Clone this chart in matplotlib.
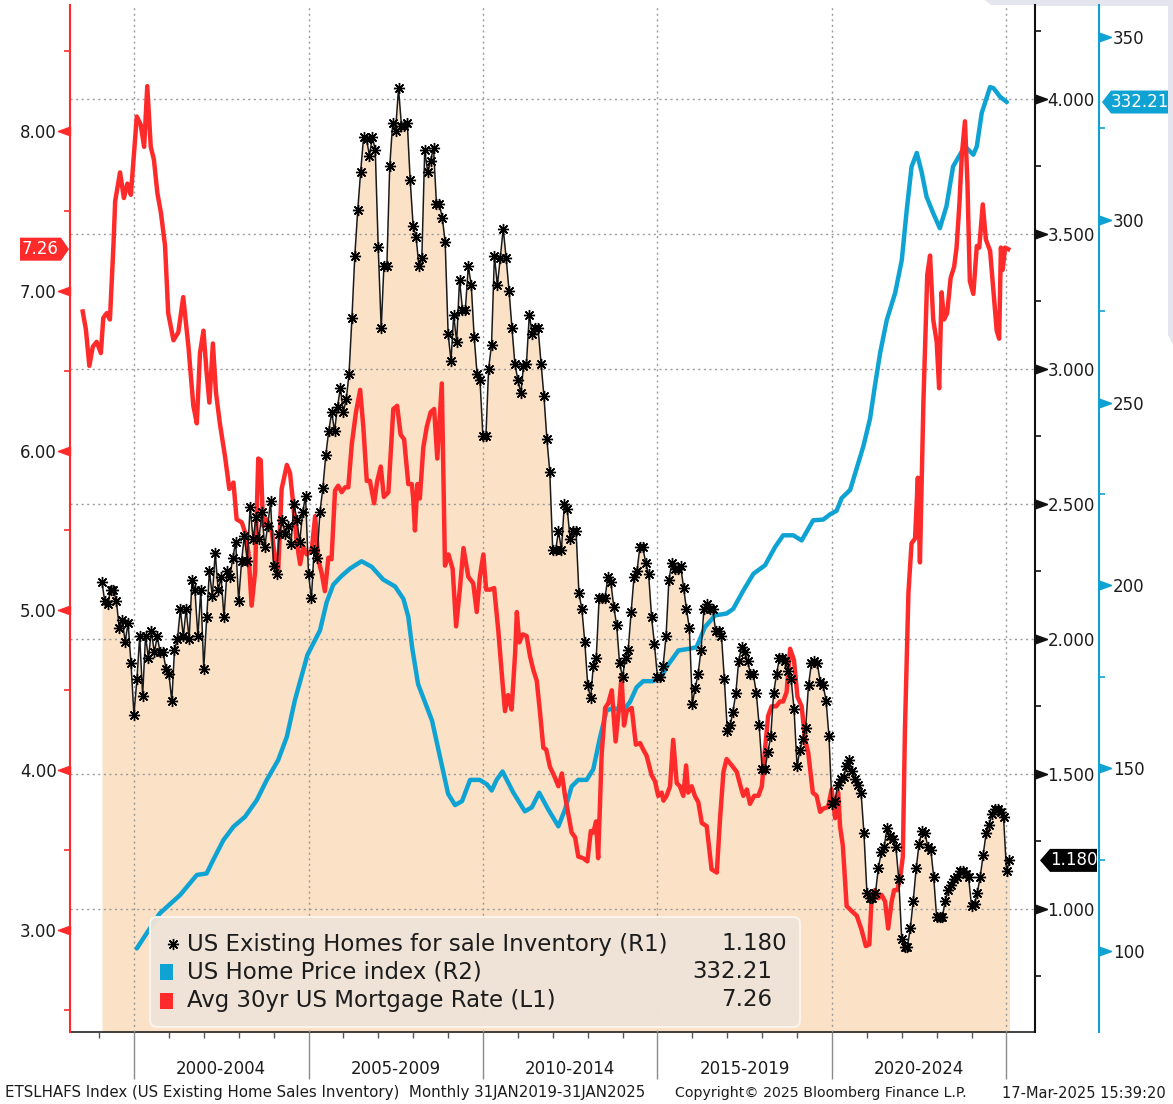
"""
Bloomberg-style chart: US existing home inventory, home price index and
30yr mortgage rate on three y-axes (L1, R1, R2).
"""
import matplotlib
matplotlib.use("Agg")
import matplotlib.pyplot as plt
import numpy as np
import pandas as pd
from matplotlib.path import Path
from matplotlib.patches import Polygon, FancyBboxPatch, Rectangle
from matplotlib.transforms import blended_transform_factory, IdentityTransform

# ---------------------------------------------------------------- data
# US existing homes for sale inventory (millions), monthly Jan-1999 .. Jan-2025
inventory = [
    2.21, 2.14, 2.13, 2.18, 2.18, 2.14, 2.04, 2.07, 1.99, 2.06, 1.91, 1.72,  # 1999
    1.85, 2.01, 1.79, 2.01, 1.93, 2.03, 1.95, 2.01, 1.95, 1.95, 1.89, 1.87,  # 2000
    1.77, 1.96, 2.00, 2.11, 2.01, 2.11, 2.00, 2.22, 2.18, 2.01, 2.18, 1.89,  # 2001
    2.08, 2.25, 2.16, 2.32, 2.18, 2.23, 2.08, 2.25, 2.23, 2.30, 2.36, 2.14,  # 2002
    2.29, 2.38, 2.29, 2.49, 2.37, 2.45, 2.37, 2.47, 2.34, 2.42, 2.51, 2.27,  # 2003
    2.24, 2.39, 2.44, 2.39, 2.42, 2.35, 2.50, 2.44, 2.36, 2.47, 2.53, 2.24,  # 2004
    2.15, 2.33, 2.30, 2.47, 2.56, 2.68, 2.77, 2.84, 2.77, 2.86, 2.93, 2.84,  # 2005
    2.89, 2.98, 3.19, 3.42, 3.59, 3.73, 3.86, 3.85, 3.79, 3.86, 3.81, 3.45,  # 2006
    3.15, 3.38, 3.38, 3.75, 3.91, 3.88, 4.04, 3.90, 3.90, 3.91, 3.70, 3.53,  # 2007
    3.49, 3.38, 3.41, 3.81, 3.73, 3.77, 3.82, 3.61, 3.61, 3.56, 3.47, 3.13,  # 2008
    3.03, 3.20, 3.10, 3.33, 3.22, 3.22, 3.38, 3.31, 3.12, 2.98, 2.96, 2.75,  # 2009
    2.75, 3.00, 3.09, 3.42, 3.31, 3.41, 3.52, 3.41, 3.29, 3.15, 3.02, 2.96,  # 2010
    2.91, 3.01, 3.02, 3.20, 3.13, 3.15, 3.15, 3.02, 2.90, 2.74, 2.62, 2.33,  # 2011
    2.33, 2.40, 2.33, 2.50, 2.48, 2.37, 2.40, 2.40, 2.17, 2.11, 1.99, 1.83,  # 2012
    1.78, 1.90, 1.93, 2.15, 2.15, 2.15, 2.23, 2.21, 2.12, 2.05, 1.91, 1.86,  # 2013
    1.93, 1.96, 2.10, 2.23, 2.25, 2.34, 2.34, 2.28, 2.24, 2.08, 1.98, 1.86,  # 2014
    1.86, 1.90, 2.01, 2.22, 2.28, 2.26, 2.26, 2.27, 2.19, 2.11, 2.04, 1.76,  # 2015
    1.82, 1.87, 1.96, 2.11, 2.13, 2.11, 2.11, 2.03, 2.03, 2.01, 1.85, 1.66,  # 2016
    1.68, 1.73, 1.80, 1.92, 1.97, 1.95, 1.92, 1.87, 1.87, 1.80, 1.68, 1.52,  # 2017
    1.52, 1.58, 1.64, 1.80, 1.87, 1.93, 1.93, 1.92, 1.88, 1.85, 1.74, 1.53,  # 2018
    1.59, 1.63, 1.67, 1.83, 1.91, 1.92, 1.91, 1.84, 1.83, 1.77, 1.64, 1.39,  # 2019
    1.40, 1.46, 1.48, 1.49, 1.53, 1.55, 1.51, 1.48, 1.46, 1.43, 1.28, 1.06,  # 2020
    1.04, 1.04, 1.06, 1.15, 1.21, 1.23, 1.30, 1.27, 1.26, 1.23, 1.11, 0.89,  # 2021
    0.86, 0.86, 0.93, 1.03, 1.15, 1.24, 1.29, 1.28, 1.23, 1.22, 1.12, 0.97,  # 2022
    0.97, 0.97, 1.03, 1.07, 1.09, 1.11, 1.12, 1.14, 1.14, 1.13, 1.12, 1.01,  # 2023
    1.02, 1.06, 1.12, 1.20, 1.28, 1.31, 1.35, 1.37, 1.37, 1.36, 1.34, 1.14,  # 2024
    1.18,                                                                    # 2025
]

# US home price index (R2), decimal-year dates
hpi_t = [
    2000.08, 2000.36, 2000.74, 2001.32, 2001.80, 2002.08, 2002.27, 2002.56,
    2002.85, 2003.18, 2003.52, 2003.80, 2004.13, 2004.38, 2004.61, 2004.97,
    2005.33, 2005.52, 2005.71, 2005.95, 2006.19, 2006.52, 2006.81, 2007.14,
    2007.48, 2007.72, 2007.86, 2007.97, 2008.14, 2008.34, 2008.54, 2008.77,
    2009.00, 2009.20, 2009.40, 2009.63, 2009.91, 2010.11, 2010.25, 2010.39,
    2010.56, 2010.87, 2011.20, 2011.40, 2011.61, 2011.87, 2012.16, 2012.35,
    2012.54, 2012.73, 2012.97, 2013.16, 2013.35, 2013.54, 2013.73, 2014.02,
    2014.21, 2014.40, 2014.59, 2014.88, 2015.12, 2015.26, 2015.60, 2015.93,
    2016.12, 2016.36, 2016.65, 2016.98, 2017.17, 2017.46, 2017.75, 2018.08,
    2018.37, 2018.60, 2018.89, 2019.13, 2019.46, 2019.75, 2019.94, 2020.13,
    2020.28, 2020.52, 2020.71, 2020.90, 2021.09, 2021.23, 2021.38, 2021.57,
    2021.81, 2022.00, 2022.14, 2022.28, 2022.43, 2022.57, 2022.71, 2022.90,
    2023.09, 2023.28, 2023.47, 2023.72, 2023.86, 2024.05, 2024.15, 2024.29,
    2024.53, 2024.63, 2024.81, 2025.01,
]
hpi = [
    100.7, 104.8, 110.3, 115.3, 120.8, 121.2, 124.9, 130.3,
    134.0, 136.7, 141.3, 146.7, 152.2, 158.6, 168.6, 181.0,
    187.7, 195.4, 200.2, 202.6, 204.6, 206.6, 205.1, 201.6,
    199.7, 196.3, 191.4, 183.0, 173.0, 168.0, 163.0, 153.0,
    143.0, 139.9, 141.0, 146.8, 146.8, 145.6, 143.9, 146.8,
    149.1, 143.3, 138.2, 139.3, 143.3, 138.7, 134.1, 138.7,
    145.0, 146.8, 146.8, 149.7, 158.3, 165.8, 166.4, 165.8,
    168.1, 172.1, 173.8, 173.8, 175.0, 177.7, 182.2, 182.7,
    183.1, 188.6, 191.8, 192.3, 193.6, 198.6, 203.2, 205.5,
    210.5, 213.7, 213.7, 212.3, 217.8, 218.0, 219.4, 220.4,
    223.9, 226.1, 232.1, 238.1, 245.6, 254.6, 263.6, 272.6,
    280.0, 289.0, 302.5, 314.5, 318.3, 313.0, 306.3, 301.8,
    297.7, 303.7, 314.6, 318.7, 319.6, 317.8, 320.1, 329.2,
    336.3, 336.0, 333.7, 332.21,
]

# Avg 30yr US mortgage rate (L1), decimal-year dates
rate_t = [
    1998.53, 1998.62, 1998.72, 1998.82, 1998.93, 1999.05, 1999.12, 1999.22,
    1999.31, 1999.41, 1999.46, 1999.60, 1999.71, 1999.81, 1999.91, 2000.08,
    2000.19, 2000.29, 2000.38, 2000.48, 2000.57, 2000.67, 2000.77, 2000.89,
    2000.98, 2001.13, 2001.27, 2001.41, 2001.56, 2001.70, 2001.80, 2001.89,
    2001.99, 2002.08, 2002.16, 2002.26, 2002.35, 2002.46, 2002.61, 2002.73,
    2002.85, 2002.94, 2003.09, 2003.18, 2003.28, 2003.37, 2003.47, 2003.56,
    2003.63, 2003.70, 2003.80, 2003.95, 2004.04, 2004.13, 2004.23, 2004.38,
    2004.47, 2004.56, 2004.66, 2004.76, 2004.85, 2004.95, 2005.09, 2005.19,
    2005.28, 2005.38, 2005.47, 2005.57, 2005.66, 2005.76, 2005.85, 2005.95,
    2006.05, 2006.14, 2006.24, 2006.36, 2006.48, 2006.57, 2006.67, 2006.76,
    2006.88, 2006.97, 2007.07, 2007.16, 2007.29, 2007.43, 2007.54, 2007.64,
    2007.74, 2007.86, 2007.96, 2008.00, 2008.05, 2008.12, 2008.19, 2008.29,
    2008.39, 2008.50, 2008.60, 2008.69, 2008.82, 2008.91, 2009.01, 2009.13,
    2009.23, 2009.34, 2009.44, 2009.58, 2009.72, 2009.82, 2009.91, 2010.01,
    2010.09, 2010.20, 2010.32, 2010.44, 2010.54, 2010.63, 2010.72, 2010.82,
    2010.92, 2010.97, 2011.04, 2011.14, 2011.25, 2011.35, 2011.44, 2011.54,
    2011.63, 2011.73, 2011.81, 2011.92, 2012.03, 2012.16, 2012.26, 2012.35,
    2012.44, 2012.54, 2012.64, 2012.73, 2012.87, 2012.99, 2013.09, 2013.16,
    2013.24, 2013.30, 2013.40, 2013.50, 2013.59, 2013.69, 2013.80, 2013.91,
    2013.97, 2014.04, 2014.12, 2014.26, 2014.38, 2014.50, 2014.59, 2014.69,
    2014.83, 2014.93, 2015.02, 2015.12, 2015.17, 2015.26, 2015.36, 2015.45,
    2015.55, 2015.64, 2015.74, 2015.82, 2015.88, 2015.98, 2016.07, 2016.17,
    2016.27, 2016.41, 2016.55, 2016.70, 2016.79, 2016.89, 2016.98, 2017.13,
    2017.27, 2017.38, 2017.46, 2017.56, 2017.65, 2017.77, 2017.89, 2017.99,
    2018.08, 2018.17, 2018.27, 2018.40, 2018.51, 2018.60, 2018.70, 2018.80,
    2018.91, 2019.01, 2019.13, 2019.23, 2019.32, 2019.45, 2019.56, 2019.66,
    2019.75, 2019.89, 2019.99, 2020.09, 2020.18, 2020.23, 2020.31, 2020.42,
    2020.56, 2020.71, 2020.85, 2020.97, 2021.07, 2021.14, 2021.23, 2021.33,
    2021.42, 2021.52, 2021.61, 2021.71, 2021.78, 2021.87, 2021.95, 2022.03,
    2022.09, 2022.19, 2022.28, 2022.38, 2022.46, 2022.52, 2022.62, 2022.73,
    2022.81, 2022.90, 2023.00, 2023.07, 2023.14, 2023.21, 2023.30, 2023.40,
    2023.50, 2023.57, 2023.65, 2023.72, 2023.81, 2023.88, 2023.95, 2024.05,
    2024.15, 2024.22, 2024.32, 2024.41, 2024.53, 2024.62, 2024.72, 2024.79,
    2024.84, 2024.89, 2024.96, 2025.05,
]
rate = [
    6.87, 6.76, 6.53, 6.65, 6.68, 6.61, 6.83, 6.86,
    6.82, 7.28, 7.56, 7.74, 7.58, 7.67, 7.60, 8.09,
    8.04, 7.90, 8.28, 7.90, 7.82, 7.61, 7.49, 7.28,
    6.86, 6.69, 6.74, 6.96, 6.65, 6.28, 6.17, 6.61,
    6.75, 6.49, 6.30, 6.67, 6.36, 6.17, 5.96, 5.76,
    5.80, 5.57, 5.55, 5.49, 5.36, 5.03, 5.24, 5.95,
    5.94, 5.53, 5.57, 5.49, 5.32, 5.24, 5.76, 5.91,
    5.86, 5.67, 5.43, 5.29, 5.40, 5.35, 5.37, 5.59,
    5.32, 5.23, 5.12, 5.33, 5.32, 5.75, 5.78, 5.74,
    5.77, 5.77, 6.04, 6.24, 6.38, 6.15, 5.81, 5.81,
    5.67, 5.81, 5.90, 5.71, 5.74, 6.26, 6.28, 6.10,
    6.07, 5.79, 5.79, 5.70, 5.50, 5.79, 5.70, 6.02,
    6.15, 6.24, 6.26, 5.95, 6.42, 5.28, 5.35, 5.26,
    4.90, 5.14, 5.39, 5.21, 5.17, 4.99, 5.21, 5.35,
    5.13, 5.13, 5.14, 4.87, 4.60, 4.37, 4.47, 4.38,
    4.73, 4.99, 4.80, 4.85, 4.84, 4.71, 4.63, 4.56,
    4.37, 4.14, 4.13, 4.02, 3.97, 3.90, 3.98, 3.84,
    3.73, 3.61, 3.58, 3.46, 3.45, 3.43, 3.62, 3.61,
    3.68, 3.45, 4.10, 4.39, 4.42, 4.50, 4.18, 4.42,
    4.59, 4.28, 4.37, 4.39, 4.16, 4.17, 4.13, 4.09,
    3.97, 3.93, 3.84, 3.86, 3.81, 3.84, 3.90, 4.19,
    3.92, 3.90, 3.84, 4.03, 3.86, 3.90, 3.84, 3.80,
    3.67, 3.65, 3.38, 3.36, 3.69, 3.99, 4.07, 4.03,
    3.99, 3.90, 3.84, 3.88, 3.79, 3.84, 3.84, 3.90,
    4.13, 4.34, 4.40, 4.40, 4.43, 4.43, 4.49, 4.76,
    4.69, 4.46, 4.40, 4.19, 4.11, 3.86, 3.84, 3.74,
    3.76, 3.77, 3.88, 3.70, 3.86, 3.65, 3.53, 3.15,
    3.12, 3.09, 3.00, 2.90, 2.91, 3.22, 3.25, 3.20,
    3.22, 3.18, 3.01, 3.18, 3.25, 3.25, 3.32, 3.46,
    4.25, 5.11, 5.42, 5.45, 5.83, 5.30, 6.31, 7.10,
    7.22, 6.82, 6.68, 6.39, 6.99, 6.82, 6.86, 7.08,
    7.15, 7.27, 7.54, 7.85, 8.06, 7.68, 7.06, 6.98,
    7.28, 7.27, 7.54, 7.32, 7.25, 7.01, 6.75, 6.70,
    7.27, 7.13, 7.27, 7.26,
]

l1_ticks = [3, 4, 5, 6, 7, 8]
r1_ticks = [1.0, 1.5, 2.0, 2.5, 3.0, 3.5, 4.0]
r2_ticks = [100, 150, 200, 250, 300, 350]
group_starts = [2000, 2005, 2010, 2015, 2020]

# ---------------------------------------------------------------- style
RED = "#ff2a2a"
BLUE = "#0fa3d4"
FILL = "#fbe1c6"
GRID = "#9b9b9b"
TXT = "#1c1c1c"

W, H = 1173, 1104
plt.rcParams["font.family"] = "DejaVu Sans"
fig = plt.figure(figsize=(W / 100, H / 100), dpi=100)

# plot frame in pixels (left, right, top, bottom)
PL, PR, PT, PB = 70, 1035, 5, 1032
rect = [PL / W, (H - PB) / H, (PR - PL) / W, (PB - PT) / H]

ax_bg = fig.add_axes(rect)
ax_r2 = fig.add_axes(rect, sharex=ax_bg)
ax_l1 = fig.add_axes(rect, sharex=ax_bg)
ax_r1 = fig.add_axes(rect, sharex=ax_bg)

inv_dates = pd.date_range("1999-01-31", periods=len(inventory), freq="ME")
inv_t = inv_dates.year + (inv_dates.dayofyear - 0.5) / 365.25

ax_bg.set_xlim(1998.166, 2025.817)
ax_bg.set_ylim(0.5444, 4.348)
ax_r1.set_ylim(0.5444, 4.348)
ax_l1.set_ylim(2.3625, 8.7875)
ax_r2.set_ylim(77.84, 358.75)

# background axis: fill, grid, x axis
ax_bg.fill_between(inv_t, inventory, 0, color=FILL, lw=0, zorder=1)
ax_bg.set_yticks(r1_ticks)
ax_bg.tick_params(axis="y", left=False, labelleft=False)
ax_bg.set_xticks(np.arange(2000, 2026, 5))
ax_bg.set_xticks(np.arange(1999, 2026, 1), minor=True)
ax_bg.tick_params(axis="x", which="major", length=34, width=1, color="#8a8a8a",
                  labelbottom=False)
ax_bg.tick_params(axis="x", which="minor", length=4.5, width=1, color="#555555")
ax_bg.grid(True, which="major", ls=(0, (1.5, 2.5)), color=GRID, lw=1)
ax_bg.set_axisbelow(False)
for s in ("left", "right", "top"):
    ax_bg.spines[s].set_visible(False)
ax_bg.spines["bottom"].set_color("#222222")
ax_bg.spines["bottom"].set_linewidth(1.2)

xlab_tr = blended_transform_factory(ax_bg.transData, ax_bg.transAxes)
for g in group_starts:
    ax_bg.text(g + 2.5, -0.036, f"{g}-{g + 4}", transform=xlab_tr, ha="center",
               va="center", fontsize=12, color=TXT)

for a in (ax_r2, ax_l1, ax_r1):
    a.patch.set_visible(False)
    a.tick_params(axis="x", which="both", bottom=False, labelbottom=False)
    for s in a.spines.values():
        s.set_visible(False)

# R2: home price index
ax_r2.plot(hpi_t, hpi, color=BLUE, lw=3.2, solid_capstyle="round",
           solid_joinstyle="round")
ax_r2.yaxis.tick_right()
ax_r2.spines["right"].set_visible(True)
ax_r2.spines["right"].set_position(("outward", 64 * 0.72))
ax_r2.spines["right"].set_color(BLUE)
ax_r2.spines["right"].set_linewidth(1.5)
ax_r2.set_yticks(r2_ticks)
ax_r2.set_yticklabels([f"{v}" for v in r2_ticks])
ax_r2.set_yticks([125, 175, 225, 275, 325], minor=True)
ax_r2.tick_params(axis="y", which="major", length=0, pad=10, labelsize=12,
                  labelcolor=TXT)
ax_r2.tick_params(axis="y", which="minor", length=4, width=1.2, color=BLUE)

# L1: mortgage rate
ax_l1.plot(rate_t, rate, color=RED, lw=3.2, solid_joinstyle="round")
ax_l1.spines["left"].set_visible(True)
ax_l1.spines["left"].set_color(RED)
ax_l1.spines["left"].set_linewidth(1.5)
ax_l1.set_yticks(l1_ticks)
ax_l1.set_yticklabels([f"{v:.2f}" for v in l1_ticks])
ax_l1.set_yticks(np.arange(2.5, 8.6, 1.0), minor=True)
ax_l1.tick_params(axis="y", which="major", length=0, pad=9.5, labelsize=12,
                  labelcolor=TXT)
ax_l1.tick_params(axis="y", which="minor", length=4, width=1.2, color=RED)

# R1: inventory line with star markers
ax_r1.plot(inv_t, inventory, color="#1a1a1a", lw=1.1, marker=(8, 2, 0),
           markersize=8, markeredgewidth=1.0, markeredgecolor="black")
ax_r1.yaxis.tick_right()
ax_r1.spines["right"].set_visible(True)
ax_r1.spines["right"].set_color("#111111")
ax_r1.spines["right"].set_linewidth(1.5)
ax_r1.set_yticks(r1_ticks)
ax_r1.set_yticklabels([f"{v:.3f}" for v in r1_ticks])
ax_r1.set_yticks(np.arange(0.75, 4.3, 0.5), minor=True)
ax_r1.tick_params(axis="y", which="major", length=0, pad=9, labelsize=12,
                  labelcolor=TXT)
ax_r1.tick_params(axis="y", which="minor", length=4, width=1.2, color="#111111")

# triangle tick flags
tri_left = Path([(-1, 0), (0, 0.36), (0, -0.36), (-1, 0)])
tri_right = Path([(1, 0), (0, 0.36), (0, -0.36), (1, 0)])
for a, ticks, xpos, mk, col in (
    (ax_l1, l1_ticks, 0.0, tri_left, RED),
    (ax_r1, r1_ticks, 1.0, tri_right, "#111111"),
    (ax_r2, r2_ticks, 1 + 64 / (PR - PL), tri_right, BLUE),
):
    tr = blended_transform_factory(a.transAxes, a.transData)
    a.plot([xpos] * len(ticks), ticks, ls="none", marker=mk, markersize=17.5,
           color=col, transform=tr, clip_on=False)


# ---------------------------------------------------------------- value badges
def badge(ax, value, label, x0, x1, tip, color, fg="white"):
    """Flag-shaped last-value label; x in pixels, y from the axis scale."""
    y = ax.transData.transform((0, value))[1]
    h = 11.5
    if tip > x1:  # points right
        verts = [(x0, y - h), (x1, y - h), (tip, y), (x1, y + h), (x0, y + h)]
    else:  # points left
        verts = [(x1, y - h), (x0, y - h), (tip, y), (x0, y + h), (x1, y + h)]
    fig.add_artist(Polygon(verts, closed=True, facecolor=color, edgecolor="none",
                           transform=IdentityTransform(), zorder=20))
    fig.text((x0 + x1) / 2 / W, y / H, label, ha="center", va="center",
             fontsize=12, color=fg, zorder=21)


badge(ax_l1, rate[-1], f"{rate[-1]:.2f}", 20, 61, 69, RED)
badge(ax_r1, inventory[-1], f"{inventory[-1]:.3f}", 1050, 1097, 1040, "#000000")
badge(ax_r2, hpi[-1], f"{hpi[-1]:.2f}", 1111, 1168, 1102, BLUE)

# ---------------------------------------------------------------- legend
fig.add_artist(FancyBboxPatch(
    (150 / W, (H - 1027) / H), 650 / W, 110 / H,
    boxstyle="round,pad=0,rounding_size=0.006", transform=fig.transFigure,
    facecolor="#efe4da", edgecolor="#fbf5ef", lw=1.5, alpha=0.95, zorder=15))

rows = [
    ("US Existing Homes for sale Inventory (R1)", f"{inventory[-1]:.3f}", 787),
    ("US Home Price index (R2)", f"{hpi[-1]:.2f}", 772),
    ("Avg 30yr US Mortgage Rate (L1)", f"{rate[-1]:.2f}", 772),
]
row_y = [944, 972, 1000]
for (name, val, xr), yy in zip(rows, row_y):
    fig.text(187 / W, (H - yy) / H, name, ha="left", va="center", fontsize=16.5,
             color=TXT, zorder=16)
    fig.text(xr / W, (H - yy) / H, val, ha="right", va="center", fontsize=16.5,
             color=TXT, zorder=16)

fig.add_artist(plt.Line2D([173 / W], [(H - 944) / H], marker=(8, 2, 0),
                          markersize=8, color="black", transform=fig.transFigure,
                          zorder=16))
for col, yy in ((BLUE, 972), (RED, 1001)):
    fig.add_artist(Rectangle((160 / W, (H - yy - 8) / H), 13 / W, 16 / H,
                             facecolor=col, edgecolor="none",
                             transform=fig.transFigure, zorder=16))

# ---------------------------------------------------------------- footer
fig.text(5 / W, (H - 1093) / H,
         "ETSLHAFS Index (US Existing Home Sales Inventory)  Monthly 31JAN2019-31JAN2025",
         ha="left", va="center", fontsize=10.8, color=TXT)
fig.text(675 / W, (H - 1093) / H, "Copyright\u00a9 2025 Bloomberg Finance L.P.",
         ha="left", va="center", fontsize=10.2, color=TXT)
fig.text(1166 / W, (H - 1093) / H, "17-Mar-2025 15:39:20", ha="right",
         va="center", fontsize=10.5, color=TXT)

# small grey UI artifact in the top-right corner
fig.add_artist(Polygon([(985, H), (W, H), (W, H - 345), (1168, H - 335),
                        (1168, H - 6), (992, H - 6)], closed=True,
                       facecolor="#e5e5ef", edgecolor="none",
                       transform=IdentityTransform(), zorder=0))

fig.savefig("out.png", dpi=100)
